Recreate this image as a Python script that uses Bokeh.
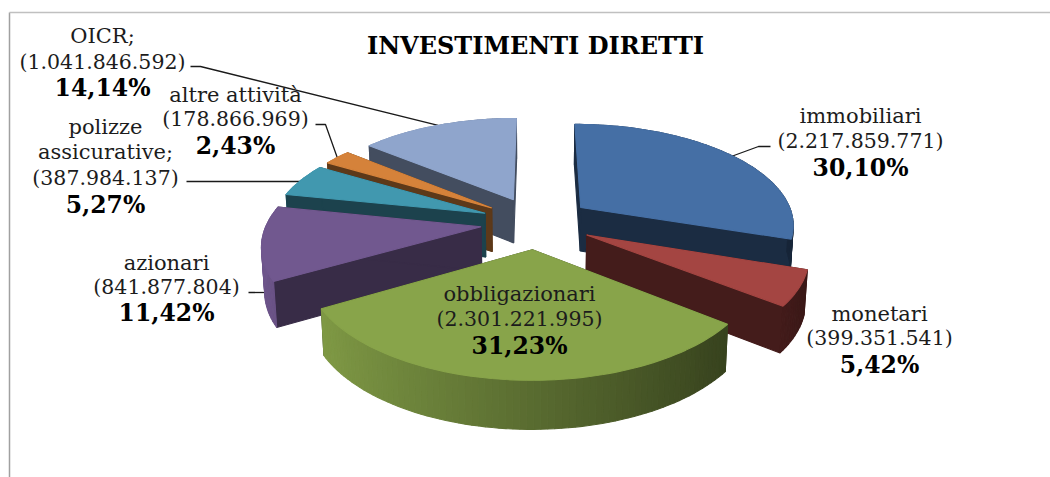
import numpy as np
from bokeh.core.properties import value
from bokeh.embed import file_html
from bokeh.models import Range1d
from bokeh.plotting import figure
from bokeh.resources import INLINE

# --- chart data ---
names = [["immobiliari"], ["monetari"], ["obbligazionari"], ["azionari"],
         ["polizze", "assicurative;"], ["altre attività"], ["OICR;"]]
amounts = [2217859771, 399351541, 2301221995, 841877804, 387984137, 178866969, 1041846592]
amount_labels = ["(2.217.859.771)", "(399.351.541)", "(2.301.221.995)", "(841.877.804)",
                 "(387.984.137)", "(178.866.969)", "(1.041.846.592)"]
percent_labels = ["30,10%", "5,42%", "31,23%", "11,42%", "5,27%", "2,43%", "14,14%"]
title = "INVESTIMENTI DIRETTI"

# --- styles ---
top_colors = ["#456FA5", "#A44542", "#88A44A", "#71588F", "#4198AF", "#D5823A", "#8FA5CC"]
side_shade = [0.40, 0.42, 0.42, 0.50, 0.44, 0.44, 0.47]
paint_order = [6, 5, 4, 3, 0, 1, 2]
SERIF = value("DejaVu Serif")

# --- pie projection ---
CX, CY = 536.0, 222.0
R, EXPLODE = 230.0, 60.0
KX, KY, PERSP = 0.93, 0.437, 0.00068
DEPTH = 44.0
total = float(sum(amounts))
cum = np.cumsum([0.0] + amounts) / total * 2 * np.pi
starts, ends = cum[:-1], cum[1:]
mids = (starts + ends) / 2


def project(i, theta, radius, z=0.0):
    """Slice i, angle clockwise from the top, radius along the plane, z = 0..1 going down."""
    X = radius * np.sin(theta) + EXPLODE * np.sin(mids[i])
    Y = radius * np.cos(theta) + EXPLODE * np.cos(mids[i])
    s = 1.0 / (1.0 + PERSP * Y)
    return (CX + KX * X * s * (1 - 0.012 * z), CY - KY * Y * s + DEPTH * np.sqrt(s) * z)


def hexshade(c, f):
    r, g, b = [int(c[k:k + 2], 16) for k in (1, 3, 5)]
    return "#%02x%02x%02x" % (int(r * f), int(g * f), int(b * f))


xs, ys, colors = [], [], []


def add(points, color):
    xs.append([float(q[0]) for q in points])
    ys.append([float(q[1]) for q in points])
    colors.append(color)


for i in paint_order:
    c = top_colors[i]
    dark = hexshade(c, side_shade[i])
    n = max(3, int(np.degrees(ends[i] - starts[i]) / 1.5))
    grid = np.linspace(starts[i], ends[i], n + 1)

    def wall(a, b):
        f = 0.66 - 0.32 * np.sin((a + b) / 2)
        add([project(i, a, R, 0), project(i, b, R, 0), project(i, b, R, 1), project(i, a, R, 1)],
            hexshade(c, f))

    pairs = list(zip(grid[:-1], grid[1:]))
    # back-facing wall first, then radial faces, then the wall that faces the viewer, then the top
    for a, b in pairs:
        if np.cos((a + b) / 2) > 0:
            wall(a, b)
    for th in (starts[i], ends[i]):
        add([project(i, th, 0, 0), project(i, th, R, 0), project(i, th, R, 1), project(i, th, 0, 1)], dark)
    for a, b in pairs:
        if np.cos((a + b) / 2) <= 0:
            wall(a, b)
    rim = [project(i, t, R, 0) for t in grid]
    add([project(i, 0, 0, 0)] + rim, c)

p = figure(width=1050, height=477, x_range=Range1d(0, 1050), y_range=Range1d(477, 0),
           toolbar_location=None, output_backend="svg", min_border=0)
p.axis.visible = False
p.grid.visible = False
p.outline_line_color = None
p.background_fill_color = "white"

# frame of the chart area
p.line([9, 9], [477, 12], line_color="#a0a0a0", line_width=1.5)
p.line([9, 1050], [12, 12], line_color="#c0c0c0", line_width=1.5)


def leader(points):
    p.line([q[0] for q in points], [q[1] for q in points], line_color="#1a1a1a", line_width=1.3)


# leader lines: text end (layout) to the slice (from the pie model)
leader([(770, 146), (758, 146), project(0, mids[0], R)])
leader([(248, 292), (275, 292)])
leader([(186, 181), (project(4, mids[4], R)[0] + 4, 181)])
leader([(315, 124), (325, 124), project(5, mids[5], R)])
leader([(190, 66), (200, 66), project(6, mids[6], R)])

p.patches(xs, ys, fill_color=colors, line_color=colors, line_width=1.1)

# label layout: centre x and line centres y
label_pos = {
    0: (860, [115], 140, 167),
    1: (879, [313], 337, 364),
    2: (519, [293], 318, 345),
    3: (166, [262], 286, 312),
    4: (105, [126, 151], 177, 204),
    5: (235, [94], 118, 145),
    6: (102, [35], 61, 87),
}
nx, ny, nt, ax, ay, at, bx, by, bt = [], [], [], [], [], [], [], [], []
for i, (x, name_y, amt_y, pct_y) in label_pos.items():
    for line, y in zip(names[i], name_y):
        nx.append(x); ny.append(y); nt.append(line)
    ax.append(x); ay.append(amt_y); at.append(amount_labels[i])
    bx.append(x); by.append(pct_y); bt.append(percent_labels[i])

p.text(nx, ny, text=nt, text_font=SERIF, text_font_size="21px",
       text_align="center", text_baseline="middle", text_color="#1c1c1c")
p.text(ax, ay, text=at, text_font=SERIF, text_font_size="20.5px",
       text_align="center", text_baseline="middle", text_color="#1c1c1c")
p.text(bx, by, text=bt, text_font=SERIF, text_font_style="bold", text_font_size="23.5px",
       text_align="center", text_baseline="middle", text_color="#000000")
p.text([535], [45], text=[title], text_font=SERIF, text_font_style="bold",
       text_font_size="24px", text_align="center", text_baseline="middle", text_color="#000000")

open("out.html", "w").write(file_html(p, INLINE))
